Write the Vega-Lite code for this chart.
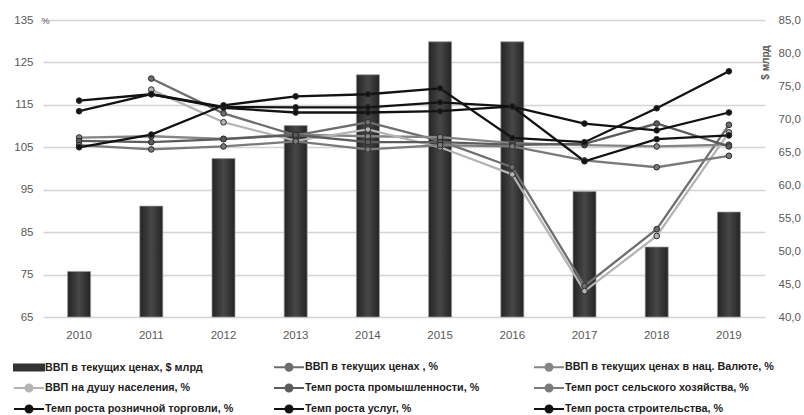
{
  "$schema": "https://vega.github.io/schema/vega-lite/v6.json",
  "width": 722,
  "height": 297,
  "autosize": {"type": "none"},
  "padding": {"left": 43, "top": 20, "right": 39, "bottom": 98},
  "background": "white",
  "config": {
    "view": {"stroke": null},
    "font": "Liberation Sans",
    "axis": {"labelFont": "Liberation Sans", "labelColor": "#595959", "labelFontSize": 11.5, "titleFont": "Liberation Sans", "titleColor": "#595959", "titleFontWeight": "normal", "ticks": false, "domain": false}
  },
  "datasets": {
    "gdp": [
      {"year": "2010", "series": "ВВП в текущих ценах, $ млрд", "value": 46.9},
      {"year": "2011", "series": "ВВП в текущих ценах, $ млрд", "value": 56.8},
      {"year": "2012", "series": "ВВП в текущих ценах, $ млрд", "value": 64.0},
      {"year": "2013", "series": "ВВП в текущих ценах, $ млрд", "value": 69.0},
      {"year": "2014", "series": "ВВП в текущих ценах, $ млрд", "value": 76.7},
      {"year": "2015", "series": "ВВП в текущих ценах, $ млрд", "value": 81.7},
      {"year": "2016", "series": "ВВП в текущих ценах, $ млрд", "value": 81.7},
      {"year": "2017", "series": "ВВП в текущих ценах, $ млрд", "value": 59.0},
      {"year": "2018", "series": "ВВП в текущих ценах, $ млрд", "value": 50.6},
      {"year": "2019", "series": "ВВП в текущих ценах, $ млрд", "value": 55.9}
    ],
    "rates": [
      {"year": "2011", "series": "ВВП в текущих ценах , %", "value": 121.2},
      {"year": "2012", "series": "ВВП в текущих ценах , %", "value": 113.0},
      {"year": "2013", "series": "ВВП в текущих ценах , %", "value": 107.8},
      {"year": "2014", "series": "ВВП в текущих ценах , %", "value": 110.9},
      {"year": "2015", "series": "ВВП в текущих ценах , %", "value": 106.5},
      {"year": "2016", "series": "ВВП в текущих ценах , %", "value": 100.3},
      {"year": "2017", "series": "ВВП в текущих ценах , %", "value": 72.3},
      {"year": "2018", "series": "ВВП в текущих ценах , %", "value": 85.7},
      {"year": "2019", "series": "ВВП в текущих ценах , %", "value": 110.3},

      {"year": "2010", "series": "ВВП в текущих ценах в нац. Валюте, %", "value": 107.3},
      {"year": "2011", "series": "ВВП в текущих ценах в нац. Валюте, %", "value": 107.6},
      {"year": "2012", "series": "ВВП в текущих ценах в нац. Валюте, %", "value": 107.0},
      {"year": "2013", "series": "ВВП в текущих ценах в нац. Валюте, %", "value": 108.0},
      {"year": "2014", "series": "ВВП в текущих ценах в нац. Валюте, %", "value": 107.6},
      {"year": "2015", "series": "ВВП в текущих ценах в нац. Валюте, %", "value": 107.4},
      {"year": "2016", "series": "ВВП в текущих ценах в нац. Валюте, %", "value": 106.0},
      {"year": "2017", "series": "ВВП в текущих ценах в нац. Валюте, %", "value": 105.5},
      {"year": "2018", "series": "ВВП в текущих ценах в нац. Валюте, %", "value": 105.2},
      {"year": "2019", "series": "ВВП в текущих ценах в нац. Валюте, %", "value": 105.6},

      {"year": "2011", "series": "ВВП на душу населения, %", "value": 118.6},
      {"year": "2012", "series": "ВВП на душу населения, %", "value": 110.9},
      {"year": "2013", "series": "ВВП на душу населения, %", "value": 106.5},
      {"year": "2014", "series": "ВВП на душу населения, %", "value": 109.2},
      {"year": "2015", "series": "ВВП на душу населения, %", "value": 105.0},
      {"year": "2016", "series": "ВВП на душу населения, %", "value": 98.6},
      {"year": "2017", "series": "ВВП на душу населения, %", "value": 71.1},
      {"year": "2018", "series": "ВВП на душу населения, %", "value": 84.1},
      {"year": "2019", "series": "ВВП на душу населения, %", "value": 108.5},

      {"year": "2010", "series": "Темп роста промышленности, %", "value": 106.5},
      {"year": "2011", "series": "Темп роста промышленности, %", "value": 106.2},
      {"year": "2012", "series": "Темп роста промышленности, %", "value": 106.9},
      {"year": "2013", "series": "Темп роста промышленности, %", "value": 107.9},
      {"year": "2014", "series": "Темп роста промышленности, %", "value": 106.2},
      {"year": "2015", "series": "Темп роста промышленности, %", "value": 106.2},
      {"year": "2016", "series": "Темп роста промышленности, %", "value": 105.6},
      {"year": "2017", "series": "Темп роста промышленности, %", "value": 105.8},
      {"year": "2018", "series": "Темп роста промышленности, %", "value": 110.6},
      {"year": "2019", "series": "Темп роста промышленности, %", "value": 105.2},

      {"year": "2010", "series": "Темп рост сельского хозяйства, %", "value": 105.5},
      {"year": "2011", "series": "Темп рост сельского хозяйства, %", "value": 104.5},
      {"year": "2012", "series": "Темп рост сельского хозяйства, %", "value": 105.2},
      {"year": "2013", "series": "Темп рост сельского хозяйства, %", "value": 106.4},
      {"year": "2014", "series": "Темп рост сельского хозяйства, %", "value": 104.5},
      {"year": "2015", "series": "Темп рост сельского хозяйства, %", "value": 105.5},
      {"year": "2016", "series": "Темп рост сельского хозяйства, %", "value": 105.2},
      {"year": "2017", "series": "Темп рост сельского хозяйства, %", "value": 101.9},
      {"year": "2018", "series": "Темп рост сельского хозяйства, %", "value": 100.3},
      {"year": "2019", "series": "Темп рост сельского хозяйства, %", "value": 103.0},

      {"year": "2010", "series": "Темп роста розничной торговли, %", "value": 116.0},
      {"year": "2011", "series": "Темп роста розничной торговли, %", "value": 117.5},
      {"year": "2012", "series": "Темп роста розничной торговли, %", "value": 114.5},
      {"year": "2013", "series": "Темп роста розничной торговли, %", "value": 114.4},
      {"year": "2014", "series": "Темп роста розничной торговли, %", "value": 114.4},
      {"year": "2015", "series": "Темп роста розничной торговли, %", "value": 115.6},
      {"year": "2016", "series": "Темп роста розничной торговли, %", "value": 114.6},
      {"year": "2017", "series": "Темп роста розничной торговли, %", "value": 101.7},
      {"year": "2018", "series": "Темп роста розничной торговли, %", "value": 106.9},
      {"year": "2019", "series": "Темп роста розничной торговли, %", "value": 107.8},

      {"year": "2010", "series": "Темп роста услуг, %", "value": 113.5},
      {"year": "2011", "series": "Темп роста услуг, %", "value": 117.5},
      {"year": "2012", "series": "Темп роста услуг, %", "value": 114.3},
      {"year": "2013", "series": "Темп роста услуг, %", "value": 113.2},
      {"year": "2014", "series": "Темп роста услуг, %", "value": 113.2},
      {"year": "2015", "series": "Темп роста услуг, %", "value": 113.5},
      {"year": "2016", "series": "Темп роста услуг, %", "value": 114.6},
      {"year": "2017", "series": "Темп роста услуг, %", "value": 110.6},
      {"year": "2018", "series": "Темп роста услуг, %", "value": 109.0},
      {"year": "2019", "series": "Темп роста услуг, %", "value": 113.2},

      {"year": "2010", "series": "Темп роста строительства, %", "value": 105.0},
      {"year": "2011", "series": "Темп роста строительства, %", "value": 108.0},
      {"year": "2012", "series": "Темп роста строительства, %", "value": 114.9},
      {"year": "2013", "series": "Темп роста строительства, %", "value": 117.0},
      {"year": "2014", "series": "Темп роста строительства, %", "value": 117.5},
      {"year": "2015", "series": "Темп роста строительства, %", "value": 118.9},
      {"year": "2016", "series": "Темп роста строительства, %", "value": 107.2},
      {"year": "2017", "series": "Темп роста строительства, %", "value": 106.2},
      {"year": "2018", "series": "Темп роста строительства, %", "value": 114.2},
      {"year": "2019", "series": "Темп роста строительства, %", "value": 122.9}
    ]
  },
  "layer": [
    {
      "data": {"name": "gdp"},
      "mark": {
        "type": "bar",
        "width": 23,
        "fill": {"gradient": "linear", "x1": 0, "x2": 1, "y1": 0, "y2": 0, "stops": [{"offset": 0, "color": "#242424"}, {"offset": 0.5, "color": "#474747"}, {"offset": 1, "color": "#242424"}]},
        "stroke": "#9a9a9a",
        "strokeWidth": 0.7
      },
      "encoding": {
        "x": {
          "field": "year", "type": "ordinal",
          "scale": {"paddingInner": 0, "paddingOuter": 0},
          "axis": {"title": null, "labelAngle": 0, "labelPadding": 12, "grid": false}
        },
        "y": {
          "field": "value", "type": "quantitative",
          "scale": {"domain": [40, 85], "zero": false, "nice": false},
          "axis": {
            "orient": "right", "grid": false,
            "values": [40, 45, 50, 55, 60, 65, 70, 75, 80, 85],
            "labelExpr": "replace(format(datum.value, '.1f'), '.', ',')",
            "labelPadding": 13,
            "title": "$ млрд", "titleAngle": 270, "titleX": 0, "titleY": 42,
            "titleAlign": "center", "titleBaseline": "middle", "titleFontSize": 10, "titleFontWeight": "bold"
          }
        },
        "y2": {"datum": 40}
      }
    },
    {
      "data": {"name": "rates"},
      "mark": {
        "type": "line",
        "strokeWidth": 2.3,
        "point": {"filled": true, "size": 32, "stroke": "#2a2a2a", "strokeWidth": 1}
      },
      "encoding": {
        "x": {"field": "year", "type": "ordinal"},
        "y": {
          "field": "value", "type": "quantitative",
          "scale": {"domain": [65, 135], "zero": false, "nice": false},
          "axis": {
            "orient": "left", "grid": true, "gridColor": "#d4d4d4", "gridWidth": 1.4,
            "values": [65, 75, 85, 95, 105, 115, 125, 135],
            "labelPadding": 10,
            "title": "%", "titleAngle": 0, "titleX": 2, "titleY": 0,
            "titleAlign": "center", "titleBaseline": "middle", "titleFontSize": 9
          }
        },
        "color": {
          "field": "series", "type": "nominal",
          "scale": {
            "domain": ["ВВП в текущих ценах, $ млрд", "ВВП в текущих ценах , %", "ВВП в текущих ценах в нац. Валюте, %", "ВВП на душу населения, %", "Темп роста промышленности, %", "Темп рост сельского хозяйства, %", "Темп роста розничной торговли, %", "Темп роста услуг, %", "Темп роста строительства, %"],
            "range": ["#333333", "#6e6e6e", "#858585", "#b4b4b4", "#5c5c5c", "#7a7a7a", "#121212", "#121212", "#121212"]
          },
          "legend": {
            "title": null, "orient": "none", "legendX": -20, "legendY": 341,
            "direction": "horizontal",
            "columns": 3, "gridAlign": "all", "columnPadding": 16, "rowPadding": 5,
            "symbolSize": 100, "symbolStrokeWidth": 2,
            "labelFont": "Liberation Sans", "labelFontSize": 10.8, "labelFontWeight": "bold", "labelColor": "#1e1e1e", "labelLimit": 320, "labelOffset": 10,
            "encode": {
              "symbols": {
                "update": {
                  "shape": {"signal": "datum.value === 'ВВП в текущих ценах, $ млрд' ? 'M-3,-0.6H3V0.6H-3Z' : 'M-3,0H-0.7M0.7,0H3M-0.7,0A0.7,0.7,0,1,1,0.7,0A0.7,0.7,0,1,1,-0.7,0Z'"},
                  "fill": {"scale": "color", "field": "value"},
                  "stroke": {"scale": "color", "field": "value"},
                  "opacity": {"value": 1}
                }
              }
            }
          }
        }
      }
    }
  ],
  "resolve": {"scale": {"y": "independent"}}
}
